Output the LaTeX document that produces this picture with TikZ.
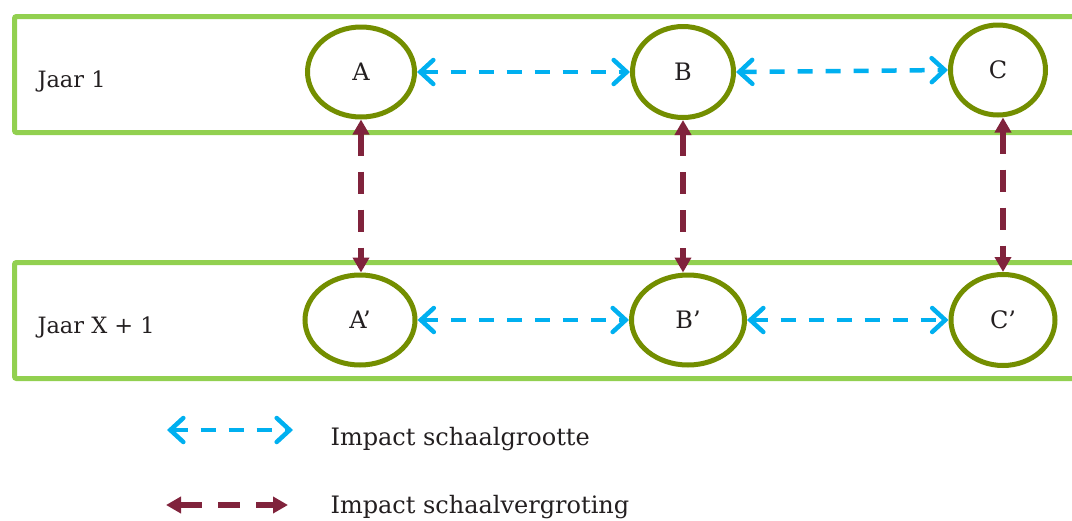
\documentclass[tikz,border=0pt]{standalone}
\usepackage{fontspec}
\setmainfont{DejaVu Serif}
\usetikzlibrary{arrows.meta,shapes.geometric}
\definecolor{bandgreen}{RGB}{146,208,80}
\definecolor{olivering}{RGB}{115,142,0}
\definecolor{skyblue}{RGB}{0,176,240}
\definecolor{maroonline}{RGB}{128,35,60}
\definecolor{textdark}{RGB}{35,31,32}
\begin{document}
\begin{tikzpicture}[x=1pt,y=-1pt,
  band/.style={draw=bandgreen,line width=5pt,rounded corners=2pt,rectangle,
    minimum width=1080pt,minimum height=116pt,anchor=north west,inner sep=0pt},
  ring/.style={ellipse,draw=olivering,line width=5pt,fill=white,inner sep=0pt,
    text=textdark,font=\fontsize{24}{28}\selectfont},
  bluearrow/.style={draw=skyblue,line width=4.5pt,dash pattern=on 15pt off 13pt,
    {Straight Barb[length=13pt,width=24pt,line cap=round]}-{Straight Barb[length=13pt,width=24pt,line cap=round]}},
  redarrow/.style={draw=maroonline,line width=5.5pt,dash pattern=on 22pt off 16pt,
    {Triangle[length=15pt,width=16pt]}-{Triangle[length=15pt,width=16pt]}},
  rowlabel/.style={anchor=base west,text=textdark,font=\fontsize{22.5}{27}\selectfont},
  legendlabel/.style={anchor=base west,text=textdark,font=\fontsize{24}{29}\selectfont}]
\useasboundingbox (0,0) rectangle (1072,520);
\clip (0,0) rectangle (1072,520);

% bands
\node[band] (band1) at (12,14) {};
\node[band] (band2) at (12,260) {};

% row labels
\node[rowlabel] (jaar1) at (34,87) {Jaar 1};
\node[rowlabel] (jaarx) at (34,333) {Jaar X + 1};

% ellipses
\node[ring,minimum width=107pt,minimum height=90pt] (A) at (361,72) {A};
\node[ring,minimum width=101pt,minimum height=91pt] (B) at (683,72) {B};
\node[ring,minimum width=95pt,minimum height=90pt] (C) at (998,70) {C};
\node[ring,minimum width=110pt,minimum height=90pt] (A2) at (360,320) {A’};
\node[ring,minimum width=113pt,minimum height=90pt] (B2) at (688,320) {B’};
\node[ring,minimum width=104pt,minimum height=91pt] (C2) at (1003,320) {C’};

% horizontal (blue) arrows
\draw[bluearrow] (A.east) -- (B.west);
\draw[bluearrow] (B.east) -- (C.west);
\draw[bluearrow] (A2.east) -- (B2.west);
\draw[bluearrow] (B2.east) -- (C2.west);

% vertical (red) arrows
\draw[redarrow] (A.south) -- (A.south |- A2.north);
\draw[redarrow] (B.south) -- (B.south |- B2.north);
\draw[redarrow] (C.south -| C2.north) -- (C2.north);

% legend
\coordinate (L1a) at (167,430);
\coordinate (L1b) at (293,430);
\coordinate (L2a) at (166,505);
\coordinate (L2b) at (288,505);
\draw[bluearrow] (L1a) -- (L1b);
\draw[redarrow,line width=6pt] (L2a) -- (L2b);
\node[legendlabel] (leg1) at (327,445) {Impact schaalgrootte};
\node[legendlabel] (leg2) at (327,513) {Impact schaalvergroting};
\end{tikzpicture}
\end{document}
